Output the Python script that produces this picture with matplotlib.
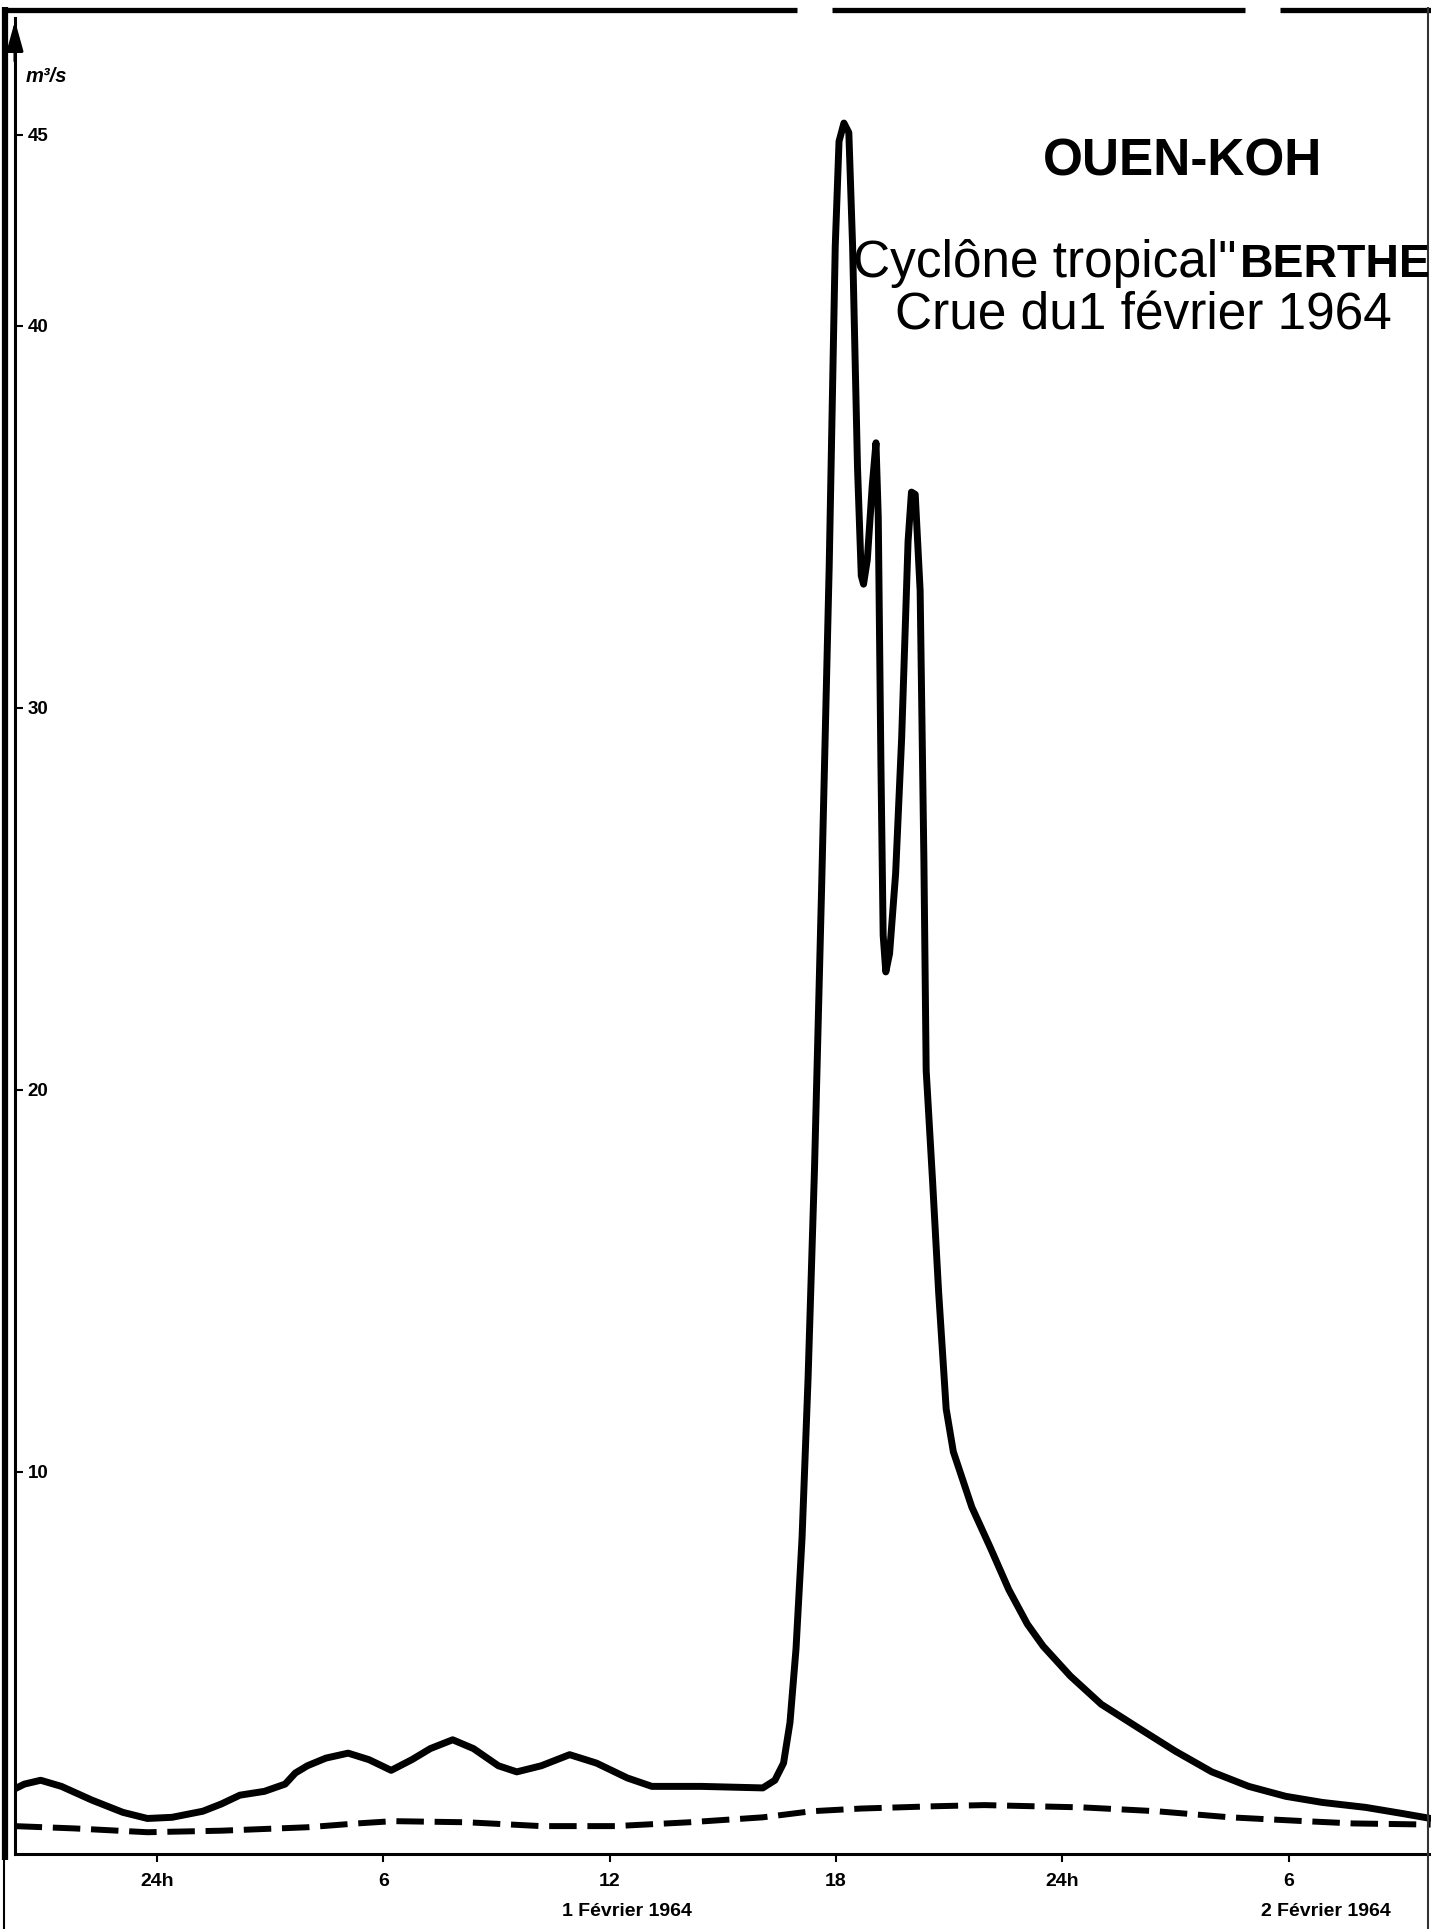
import matplotlib
matplotlib.use("Agg")
import matplotlib.pyplot as plt
from matplotlib.lines import Line2D

# Hydrograph of the Ouen-Koh, flood of 1 February 1964 (cyclone "Berthe")
# Time in hours counted from midnight 31 Jan / 1 Feb 1964, discharge in m3/s

flow_hours = [-3.90, -3.51, -3.08, -2.53, -1.72, -0.90, -0.25, 0.40, 1.22, 1.71,
              2.20, 2.85, 3.40, 3.67, 3.99, 4.48, 5.07, 5.62, 6.21, 6.76,
              7.25, 7.84, 8.39, 9.05, 9.54, 10.19, 10.94, 11.65, 12.47, 13.12,
              14.43, 16.06, 16.38, 16.61, 16.78, 16.94, 17.10, 17.26, 17.43, 17.62,
              17.82, 17.98, 18.08, 18.21, 18.34, 18.44, 18.57, 18.67, 18.73, 18.83,
              18.96, 19.06, 19.12, 19.19, 19.25, 19.32, 19.42, 19.58, 19.74, 19.91,
              20.00, 20.10, 20.23, 20.33, 20.39, 20.56, 20.72, 20.92, 21.11, 21.60,
              22.09, 22.58, 23.07, 23.49, 24.21, 25.03, 26.00, 26.98, 27.96, 28.94,
              29.92, 30.89, 32.04, 33.01, 33.76]
flow_values = [1.64, 1.83, 1.93, 1.77, 1.41, 1.09, 0.93, 0.96, 1.12, 1.31,
               1.54, 1.64, 1.83, 2.12, 2.31, 2.51, 2.64, 2.47, 2.19, 2.47,
               2.76, 2.99, 2.76, 2.31, 2.15, 2.31, 2.60, 2.38, 1.99, 1.77,
               1.77, 1.73, 1.93, 2.38, 3.44, 5.37, 8.27, 12.46, 17.93, 25.34,
               33.72, 42.09, 44.83, 45.31, 45.06, 42.09, 36.29, 33.46, 33.24, 33.88,
               35.81, 36.94, 35.00, 28.57, 24.05, 23.09, 23.57, 25.66, 29.21, 34.36,
               35.65, 35.59, 33.07, 25.99, 20.51, 17.61, 14.71, 11.65, 10.53, 9.08,
               8.02, 6.92, 6.02, 5.44, 4.66, 3.92, 3.31, 2.70, 2.15, 1.77,
               1.51, 1.35, 1.22, 1.06, 0.93]

# Base flow separation (dashed)
base_hours = [-3.77, -2.20, -0.25, 1.71, 3.99, 5.30, 6.27, 8.23, 10.19, 12.14,
              14.10, 16.06, 17.36, 18.67, 20.62, 21.93, 23.23, 24.54, 26.49, 28.45,
              30.41, 31.71, 33.76]
base_values = [0.73, 0.67, 0.57, 0.61, 0.70, 0.80, 0.86, 0.83, 0.73, 0.73,
               0.83, 0.96, 1.12, 1.19, 1.25, 1.28, 1.25, 1.22, 1.12, 0.96,
               0.86, 0.80, 0.77]

x_ticks = [0, 6, 12, 18, 24, 30]
x_tick_labels = ["24h", "6", "12", "18", "24h", "6"]
y_ticks = [10, 20, 30, 40, 45]
y_tick_labels = ["10", "20", "30", "40", "45"]
day_labels = ["1 Février 1964", "2 Février 1964"]

W, H = 1431, 1929
DPI = 100
FAM = ["Liberation Sans", "DejaVu Sans"]
plt.rcParams["font.family"] = FAM


def fx(px):
    return px / W


def fy(py):
    return 1 - py / H


fig = plt.figure(figsize=(W / DPI, H / DPI), dpi=DPI, facecolor="white")

ax_left, ax_right = 15, 1431
ax_top, ax_bottom = 18, 1854
ax = fig.add_axes([fx(ax_left), fy(ax_bottom), fx(ax_right - ax_left),
                   (ax_bottom - ax_top) / H])
ax.set_facecolor("white")

ax.plot(flow_hours, flow_values, color="black", lw=5.0,
        solid_joinstyle="round", solid_capstyle="round")
ax.plot(base_hours, base_values, color="black", lw=4.3,
        dashes=(4.6, 1.8), dash_capstyle="butt")

ax.set_xlim(-3.76, 33.77)
ax.set_ylim(0, 48.06)

for side in ("top", "right"):
    ax.spines[side].set_visible(False)
ax.spines["left"].set_linewidth(2.2)
ax.spines["bottom"].set_linewidth(2.2)

ax.set_xticks(x_ticks)
ax.set_xticklabels(x_tick_labels, fontsize=14, fontweight="bold")
ax.tick_params(axis="x", direction="out", length=6, width=1.5, pad=8)

ax.set_yticks(y_ticks)
ax.set_yticklabels(y_tick_labels, fontsize=13.5, fontweight="bold")
ax.tick_params(axis="y", direction="in", length=6, width=1.5, pad=-9)
for lbl in ax.get_yticklabels():
    lbl.set_horizontalalignment("left")

# arrow head on the discharge axis
ax.annotate("", xy=(0, 1.0), xycoords="axes fraction",
            xytext=(0, 0.975), textcoords="axes fraction",
            arrowprops=dict(arrowstyle="-|>,head_length=0.9,head_width=0.25",
                            color="black", lw=2.2, mutation_scale=20),
            annotation_clip=False)

fig.text(fx(26), fy(77), "m³/s", fontsize=14.5, fontweight="bold",
         fontstyle="italic", ha="left", va="center")

# titles
fig.text(fx(1183), fy(175), "OUEN-KOH", fontsize=37, fontweight="bold",
         ha="center", va="baseline")
fig.text(fx(853), fy(277), "Cyclône tropical\"", fontsize=37,
         ha="left", va="baseline")
fig.text(fx(1240), fy(277), "BERTHE", fontsize=33.5, fontweight="bold",
         ha="left", va="baseline")
fig.text(fx(1143), fy(330), "Crue du1 février 1964", fontsize=37,
         ha="center", va="baseline")

# day captions under the time axis
fig.text(fx(627), fy(1911), day_labels[0], fontsize=14, fontweight="bold",
         ha="center", va="center")
fig.text(fx(1326), fy(1911), day_labels[1], fontsize=14, fontweight="bold",
         ha="center", va="center")

# sheet border
def border(xs, ys, lw, color="black"):
    fig.add_artist(Line2D([fx(v) for v in xs], [fy(v) for v in ys],
                          transform=fig.transFigure, color=color, lw=lw,
                          solid_capstyle="butt"))

border([5, 5], [7, 1860], 4.5)
border([4, 4], [1860, 1929], 1.5)
border([3, 797], [10, 10], 3.8)
border([832, 1245], [10, 10], 3.8)
border([1280, 1431], [10, 10], 3.8)
border([1428, 1428], [7, 1929], 1.5, color="#333333")

fig.savefig("out.png", dpi=DPI, facecolor="white")
